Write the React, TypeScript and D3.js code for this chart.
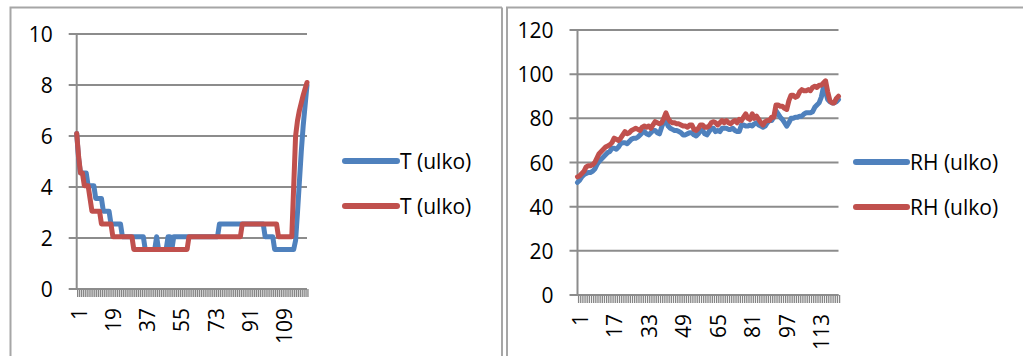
import React from "react";
import * as d3 from "d3";

// Outdoor temperature, two sensors (°C)
const tempBlue: number[] = [
  6.1, 5.1, 4.55, 4.55, 4.55, 4.55, 4.05, 4.05, 4.05, 4.05,
  3.55, 3.55, 3.55, 3.55, 3.05, 3.05, 3.05, 3.05, 2.55, 2.55,
  2.55, 2.55, 2.55, 2.55, 2.05, 2.05, 2.05, 2.05, 2.05, 2.05,
  2.05, 2.05, 2.05, 2.05, 2.05, 2.05, 1.55, 1.55, 1.55, 1.55,
  1.55, 1.55, 2.05, 1.55, 1.55, 1.55, 1.55, 1.55, 2.05, 2.05,
  1.55, 2.05, 2.05, 2.05, 2.05, 2.05, 2.05, 2.05, 2.05, 2.05,
  2.05, 2.05, 2.05, 2.05, 2.05, 2.05, 2.05, 2.05, 2.05, 2.05,
  2.05, 2.05, 2.05, 2.05, 2.05, 2.55, 2.55, 2.55, 2.55, 2.55,
  2.55, 2.55, 2.55, 2.55, 2.55, 2.55, 2.55, 2.55, 2.55, 2.55,
  2.55, 2.55, 2.55, 2.55, 2.55, 2.55, 2.55, 2.55, 2.55, 2.05,
  2.05, 2.05, 2.05, 2.05, 1.55, 1.55, 1.55, 1.55, 1.55, 1.55,
  1.55, 1.55, 1.55, 1.55, 1.55, 1.9, 3.0, 4.2, 5.4, 6.4,
  7.2, 8.0,
];

const tempRed: number[] = [
  6.1, 5.2, 4.55, 4.55, 4.05, 4.05, 4.05, 3.55, 3.05, 3.05,
  3.05, 3.05, 3.05, 2.55, 2.55, 2.55, 2.55, 2.55, 2.55, 2.05,
  2.05, 2.05, 2.05, 2.05, 2.05, 2.05, 2.05, 2.05, 2.05, 2.05,
  1.55, 1.55, 1.55, 1.55, 1.55, 1.55, 1.55, 1.55, 1.55, 1.55,
  1.55, 1.55, 1.55, 1.55, 1.55, 1.55, 1.55, 1.55, 1.55, 1.55,
  1.55, 1.55, 1.55, 1.55, 1.55, 1.55, 1.55, 1.55, 1.55, 2.05,
  2.05, 2.05, 2.05, 2.05, 2.05, 2.05, 2.05, 2.05, 2.05, 2.05,
  2.05, 2.05, 2.05, 2.05, 2.05, 2.05, 2.05, 2.05, 2.05, 2.05,
  2.05, 2.05, 2.05, 2.05, 2.05, 2.05, 2.05, 2.55, 2.55, 2.55,
  2.55, 2.55, 2.55, 2.55, 2.55, 2.55, 2.55, 2.55, 2.55, 2.55,
  2.55, 2.55, 2.55, 2.55, 2.55, 2.55, 2.05, 2.05, 2.05, 2.05,
  2.05, 2.05, 2.05, 2.05, 4.0, 6.0, 6.6, 7.0, 7.3, 7.6,
  7.85, 8.1,
];

// Outdoor relative humidity, two sensors (%)
const rhBlue: number[] = [
  51, 52, 53.5, 54.5, 55, 55.5, 55.5, 56, 57, 59,
  60.5, 61.5, 62.5, 63.5, 64.5, 65, 66.5, 66.5, 66, 67,
  68.5, 69, 69, 68.5, 69.5, 70.5, 71, 71, 71.5, 72.5,
  73.5, 74, 73, 72.5, 73.5, 74.5, 74.5, 73.5, 73, 76,
  78.5, 79, 76.5, 75.5, 75, 74.5, 74.5, 74, 73.5, 72.5,
  72.5, 73, 73.5, 73.5, 72.5, 72, 73, 74.5, 74.5, 73,
  72.5, 74, 75.5, 75.5, 74, 74.5, 74, 75.5, 75.5, 75.5,
  75, 75, 75.5, 74.5, 74, 74, 77, 77, 76.5, 76.5,
  77, 76.5, 77.5, 78, 77, 76.5, 76, 76.5, 78, 79,
  79, 80.5, 83.5, 82, 80.5, 79.5, 78, 76.5, 78, 80,
  80, 80.5, 80.5, 81, 81, 82, 82.5, 82.5, 82.5, 83,
  85, 86, 87, 89.5, 94, 92, 88.5, 87.5, 87, 87,
  87.5, 88.5,
];

const rhRed: number[] = [
  53.5, 54, 55, 56, 58, 58.5, 58.5, 59, 60, 62,
  64, 65, 66, 67, 67.5, 68, 69, 71, 70.5, 70,
  71, 72.5, 74, 73, 73.5, 74.5, 75, 75.5, 75, 74.5,
  76, 76.5, 76, 76.5, 75.5, 77, 78.5, 78, 77.5, 78,
  80, 82.5, 80, 78.5, 78, 78, 77.5, 77.5, 77, 76.5,
  76.5, 76, 77, 77, 75, 74.5, 75.5, 77, 77, 76,
  76, 76.5, 78, 78.5, 78, 77, 78, 79, 78, 79,
  78, 77.5, 78.5, 79, 78, 79.5, 79, 80.5, 82, 80,
  79.5, 82, 80, 81, 79.5, 78, 77, 78.5, 79, 79,
  80.5, 80.5, 86, 86, 85.5, 85.5, 84.5, 84, 88, 90.5,
  90.5, 89.5, 90, 92, 93, 92.5, 92.5, 93, 92.5, 94,
  94.5, 94, 95, 95, 96, 97, 92, 88, 87, 87,
  89, 90,
];

const tempTicks = [0, 2, 4, 6, 8, 10];
const rhTicks = [0, 20, 40, 60, 80, 100, 120];
const tempLabelCats = [1, 19, 37, 55, 73, 91, 109];
const rhLabelCats = [1, 17, 33, 49, 65, 81, 97, 113];
const tempLegend = ["T (ulko)", "T (ulko)"];
const rhLegend = ["RH (ulko)", "RH (ulko)"];

const BLUE = "#4F81BD";
const RED = "#C0504D";
const GRID = "#8C8C8C";
const FONT = "'Open Sans', 'Noto Sans', sans-serif";
const FS = 21;

type ChartProps = {
  plot: { x0: number; x1: number; yTop: number; yBottom: number };
  yMax: number;
  yTicks: number[];
  labelCats: number[];
  series: number[][];
  legend: string[];
  legendBox: { x0: number; x1: number; ys: number[] };
};

function LineChart({ plot, yMax, yTicks, labelCats, series, legend, legendBox }: ChartProps) {
  const n = series[0].length;
  const cats = series[0].map((_, i) => i + 1);
  const x = d3.scaleLinear().domain([1, n]).range([plot.x0, plot.x1]);
  const y = d3.scaleLinear().domain([0, yMax]).range([plot.yBottom, plot.yTop]);
  const line = d3
    .line<number>()
    .x((_, i) => x(i + 1))
    .y((d) => y(d));
  const colors = [BLUE, RED];
  const step = (plot.x1 - plot.x0) / (n - 1);

  return (
    <g>
      {yTicks.map((t) => (
        <g key={t}>
          <line
            x1={plot.x0 - 8}
            x2={plot.x1}
            y1={y(t)}
            y2={y(t)}
            stroke={GRID}
            strokeWidth={2}
          />
          <text
            x={plot.x0 - 24}
            y={y(t)}
            textAnchor="end"
            dominantBaseline="central"
            fontSize={FS}
            fontFamily={FONT}
            fill="#000"
          >
            {t}
          </text>
        </g>
      ))}
      {/* one small tick per category below the axis */}
      {cats.map((c) => (
        <line
          key={c}
          x1={x(c) + step / 2}
          x2={x(c) + step / 2}
          y1={plot.yBottom}
          y2={plot.yBottom + 8}
          stroke="#858585"
          strokeWidth={1.3}
        />
      ))}
      <line x1={plot.x0} x2={plot.x0} y1={plot.yTop} y2={plot.yBottom + 1} stroke={GRID} strokeWidth={2} />
      <line x1={plot.x0} x2={plot.x1} y1={plot.yBottom} y2={plot.yBottom} stroke={GRID} strokeWidth={2} />
      {labelCats.map((c) => (
        <text
          key={c}
          transform={`translate(${x(c) + 2},${plot.yBottom + 19}) rotate(-90)`}
          textAnchor="end"
          dominantBaseline="central"
          fontSize={FS}
          fontFamily={FONT}
          fill="#000"
        >
          {c}
        </text>
      ))}
      {series.map((s, k) => (
        <path
          key={k}
          d={line(s) ?? ""}
          fill="none"
          stroke={colors[k]}
          strokeWidth={5}
          strokeLinejoin="round"
          strokeLinecap="round"
        />
      ))}
      {legend.map((label, k) => (
        <g key={k}>
          <line
            x1={legendBox.x0}
            x2={legendBox.x1}
            y1={legendBox.ys[k]}
            y2={legendBox.ys[k]}
            stroke={colors[k]}
            strokeWidth={6}
            strokeLinecap="round"
          />
          <text
            x={legendBox.x1 + 3}
            y={legendBox.ys[k]}
            dominantBaseline="central"
            fontSize={FS}
            fontFamily={FONT}
            fill="#000"
          >
            {label}
          </text>
        </g>
      ))}
    </g>
  );
}

export default function App() {
  return (
    <svg
      width={1023}
      height={356}
      style={{ position: "absolute", left: 0, top: 0, background: "#fff" }}
    >
      <rect x={0} y={0} width={1023} height={356} fill="#fff" />
      {/* chart frames */}
      <path d="M10.5,360 V7.5 H502" fill="none" stroke="#A6A6A6" strokeWidth={2} />
      <line x1={502} x2={502} y1={7.5} y2={360} stroke="#A6A6A6" strokeWidth={2} />
      <path d="M507,360 V7.5 H1030" fill="none" stroke="#A6A6A6" strokeWidth={2} />
      <LineChart
        plot={{ x0: 76.7, x1: 307, yTop: 34, yBottom: 289 }}
        yMax={10}
        yTicks={tempTicks}
        labelCats={tempLabelCats}
        series={[tempBlue, tempRed]}
        legend={tempLegend}
        legendBox={{ x0: 345, x1: 397, ys: [161, 206] }}
      />
      <LineChart
        plot={{ x0: 577.5, x1: 838.5, yTop: 30, yBottom: 295 }}
        yMax={120}
        yTicks={rhTicks}
        labelCats={rhLabelCats}
        series={[rhBlue, rhRed]}
        legend={rhLegend}
        legendBox={{ x0: 856, x1: 907, ys: [162, 207] }}
      />
    </svg>
  );
}
